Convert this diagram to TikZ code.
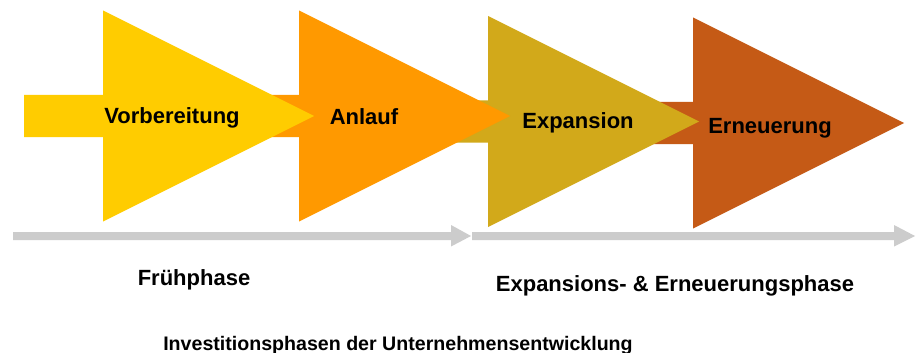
\documentclass[tikz,border=0pt]{standalone}
\usepackage{fontspec}
\setmainfont{Liberation Sans}
\definecolor{cYel}{HTML}{FFCC00}
\definecolor{cOra}{HTML}{FF9900}
\definecolor{cGold}{HTML}{D2A91A}
\definecolor{cRust}{HTML}{C55A16}
\definecolor{cGray}{HTML}{CCCCCC}
\newcommand\phasearrow[3]{% base x, center y, colour
  \fill[#3] ({#1-79},{#2-21}) -- (#1,{#2-21}) -- (#1,{#2-105.5}) -- ({#1+211},#2)
    -- (#1,{#2+105.5}) -- (#1,{#2+21}) -- ({#1-79},{#2+21}) -- cycle;}
\tikzset{
  lbl/.style={anchor=base, inner sep=0pt, font=\bfseries\fontsize{22}{26}\selectfont, text=black},
  titlelbl/.style={lbl, font=\bfseries\fontsize{19.6}{23}\selectfont},
}
\begin{document}
\begin{tikzpicture}[x=1pt,y=-1pt]
\useasboundingbox[fill=white] (0,0) rectangle (919,353);
% big arrows (later drawn first, earlier on top)
\phasearrow{693}{123}{cRust}
\phasearrow{488}{121.5}{cGold}
\phasearrow{299}{116}{cOra}
\phasearrow{103}{116}{cYel}
% labels
\node[lbl] (vor) at (172,124) {Vorbereitung};
\node[lbl] (anl) at (364,124.5) {Anlauf};
\node[lbl] (exp) at (578,128.5) {Expansion};
\node[lbl] (ern) at (770,133) {Erneuerung};
% gray timeline arrows
\fill[cGray] (13,232) -- (451,232) -- (451,225) -- (471,236) -- (451,246.5) -- (451,240) -- (13,240) -- cycle;
\fill[cGray] (472,232) -- (894,232) -- (894,225) -- (915,236) -- (894,246.5) -- (894,240) -- (472,240) -- cycle;
% phase labels
\node[lbl] (fru) at (194,285) {Frühphase};
\node[lbl] (eep) at (675,291) {Expansions- \& Erneuerungsphase};
\node[titlelbl] (tit) at (398,350) {Investitionsphasen der Unternehmensentwicklung};
\end{tikzpicture}
\end{document}
